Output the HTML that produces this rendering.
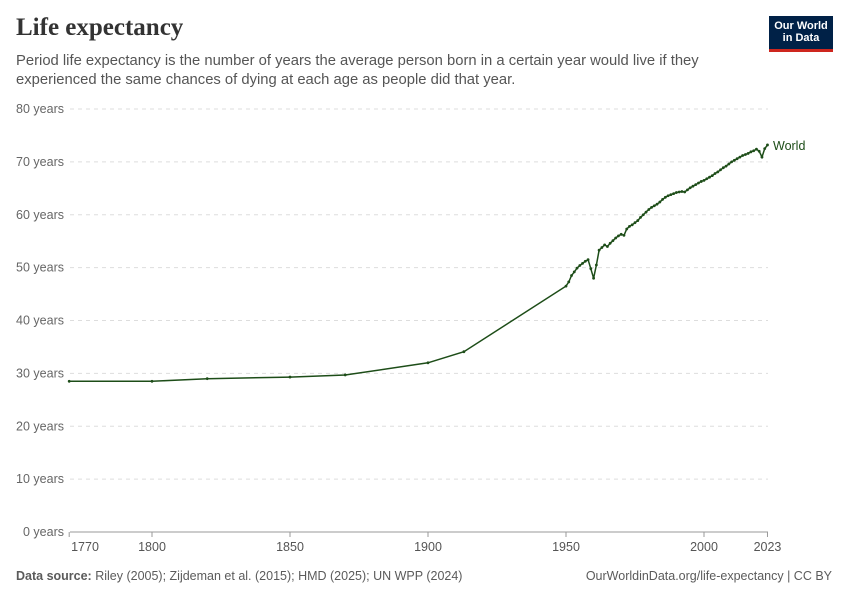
<!DOCTYPE html>
<html><head><meta charset="utf-8"><style>
body{margin:0;background:#fff;font-family:"Liberation Sans",sans-serif;}
.wrap{position:relative;width:850px;height:600px;overflow:hidden}
h1{position:absolute;left:16px;top:14px;margin:0;font-family:"Liberation Serif",serif;font-weight:bold;font-size:25px;color:#333}
.sub{position:absolute;left:16px;top:52px;font-size:14.8px;line-height:19px;color:#555;width:740px}
.logo{position:absolute;left:769px;top:16px;width:64px;height:36px;background:#002147;color:#fff;font-size:11px;line-height:12px;text-align:center;font-weight:bold;padding-top:4px;box-sizing:border-box;border-bottom:3px solid #ce261e}
.foot{position:absolute;top:569px;font-size:12.5px;color:#5b5b5b}
</style></head><body><div class="wrap">
<h1>Life expectancy</h1>
<div class="sub">Period life expectancy is the number of years the average person born in a certain year would live if they experienced the same chances of dying at each age as people did that year.</div>
<div class="logo">Our World<br>in Data</div>
<svg id="c" width="850" height="600" style="position:absolute;left:0;top:0" font-family="Liberation Sans, sans-serif"></svg>
<div class="foot" style="left:16px"><b>Data source:</b> Riley (2005); Zijdeman et al. (2015); HMD (2025); UN WPP (2024)</div>
<div class="foot" style="right:18px">OurWorldinData.org/life-expectancy | CC BY</div>
</div>
<script>
var s='';
function X(y){return 69.2+(y-1770)*2.76}
function Y(v){return 532-v*5.2875}
for(var i=0;i<=8;i++){var y=Y(i*10);
 if(i>0)s+='<line x1="70" x2="768" y1="'+y+'" y2="'+y+'" stroke="#ddd" stroke-dasharray="4,4"/>';
 s+='<text x="64" y="'+(y+4)+'" text-anchor="end" font-size="12.5" fill="#666">'+i*10+' years</text>';}
s+='<line x1="70" x2="768" y1="532" y2="532" stroke="#999"/>';
[[1770,'1770',85],[1800,'1800'],[1850,'1850'],[1900,'1900'],[1950,'1950'],[2000,'2000'],[2023,'2023']].forEach(function(t){var x=X(t[0]);
 s+='<line x1="'+x+'" x2="'+x+'" y1="532" y2="537" stroke="#999"/>';
 s+='<text x="'+(t[2]||x)+'" y="551" text-anchor="middle" font-size="12.5" fill="#555">'+t[1]+'</text>';});
var d=[[1770,28.5],[1800,28.5],[1820,29],[1850,29.3],[1870,29.7],[1900,32],[1913,34.1],[1950,46.5],[1951,47.3],[1952,48.5],[1953,49.2],[1954,49.9],[1955,50.4],[1956,50.8],[1957,51.2],[1958,51.5],[1959,49.8],[1960,48],[1961,50.5],[1962,53.3],[1963,53.8],[1964,54.3],[1965,54],[1966,54.6],[1967,55.1],[1968,55.6],[1969,56],[1970,56.3],[1971,56.1],[1972,57.3],[1973,57.8],[1974,58.1],[1975,58.5],[1976,58.9],[1977,59.5],[1978,60],[1979,60.5],[1980,61],[1981,61.4],[1982,61.7],[1983,62],[1984,62.4],[1985,62.9],[1986,63.3],[1987,63.6],[1988,63.8],[1989,64],[1990,64.2],[1991,64.3],[1992,64.4],[1993,64.3],[1994,64.7],[1995,65.1],[1996,65.4],[1997,65.7],[1998,66],[1999,66.3],[2000,66.5],[2001,66.8],[2002,67.1],[2003,67.4],[2004,67.8],[2005,68.1],[2006,68.5],[2007,68.9],[2008,69.2],[2009,69.6],[2010,70],[2011,70.3],[2012,70.6],[2013,70.9],[2014,71.2],[2015,71.4],[2016,71.6],[2017,71.9],[2018,72.1],[2019,72.4],[2020,72],[2021,70.9],[2022,72.5],[2023,73.2]];
var p=d.map(function(a){return X(a[0]).toFixed(1)+','+Y(a[1]).toFixed(1)}).join(' ');
s+='<polyline points="'+p+'" fill="none" stroke="#1d4d18" stroke-width="1.5"/>';
d.forEach(function(a){s+='<circle cx="'+X(a[0])+'" cy="'+Y(a[1])+'" r="1.4" fill="#1d4d18"/>'});
s+='<text x="773" y="150" font-size="12.5" fill="#1d4d18">World</text>';
document.getElementById('c').innerHTML=s;
</script>
</body></html>
